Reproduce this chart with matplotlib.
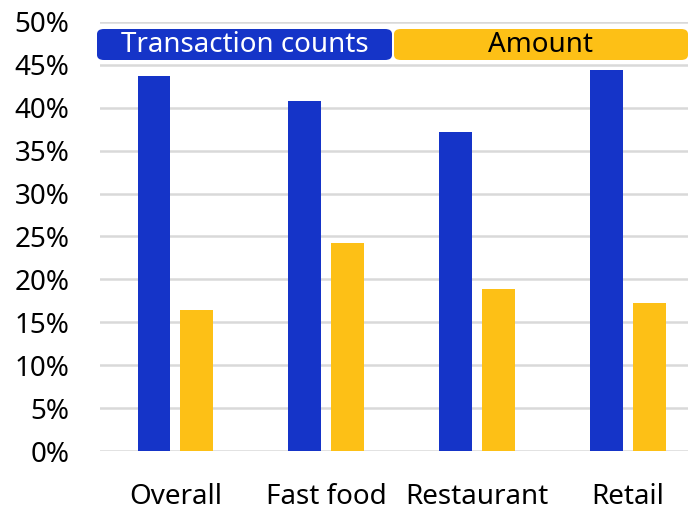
import matplotlib.pyplot as plt
from matplotlib.patches import FancyBboxPatch
import numpy as np

categories = ["Overall", "Fast food", "Restaurant", "Retail"]
transaction_counts = [43.7, 40.8, 37.2, 44.4]
amount = [16.4, 24.2, 18.9, 17.2]
yticks = [0, 5, 10, 15, 20, 25, 30, 35, 40, 45, 50]

blue = "#1534c8"
yellow = "#fdc016"

plt.rcParams["font.family"] = ["Noto Sans", "DejaVu Sans"]

fig = plt.figure(figsize=(6.93, 5.08), dpi=100)
ax = fig.add_axes([100/693, 1 - 451/508, 588/693, 429/508])

x = np.arange(len(categories))
w = 0.218
off = 0.142
ax.bar(x - off, transaction_counts, w, color=blue, zorder=3)
ax.bar(x + off, amount, w, color=yellow, zorder=3)

ax.set_xlim(-0.5, 3.397)
ax.set_ylim(0, 50)
ax.set_yticks(yticks)
ax.set_yticklabels([f"{t}%" for t in yticks], fontsize=20)
ax.set_xticks(x)
ax.set_xticklabels(categories, fontsize=20)
ax.tick_params(length=0)
ax.tick_params(axis="y", pad=22)
ax.tick_params(axis="x", pad=23)
ax.grid(axis="y", color="#d9d9d9", linewidth=1.8, zorder=0)
for s in ax.spines.values():
    s.set_visible(False)

# legend boxes on top
def legend_box(x0, x1, color, label, tcolor):
    px0 = x0 / 693
    py0 = 1 - 60 / 508
    bw = (x1 - x0) / 693
    bh = 31 / 508
    box = FancyBboxPatch((px0, py0), bw, bh, boxstyle="round,pad=0,rounding_size=0.01",
                         transform=fig.transFigure, facecolor=color, edgecolor="none", zorder=5)
    fig.patches.append(box)
    fig.text(px0 + bw / 2, py0 + bh / 2, label, color=tcolor, fontsize=20,
             ha="center", va="center", zorder=6)

legend_box(97, 392, blue, "Transaction counts", "white")
legend_box(394, 688, yellow, "Amount", "black")

fig.savefig("out.png", dpi=100)
